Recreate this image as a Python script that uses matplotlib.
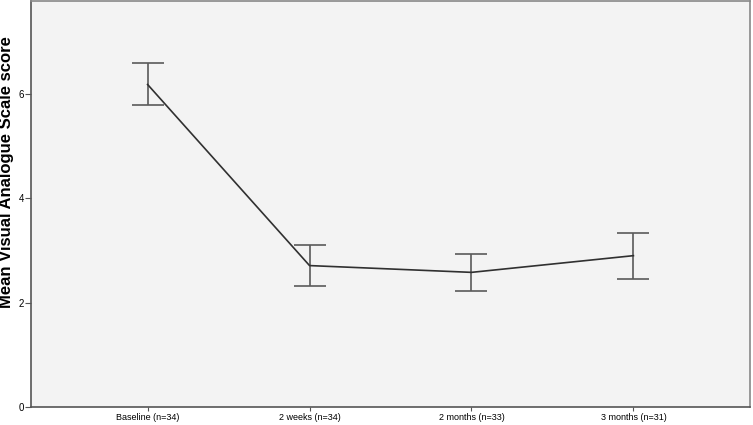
import matplotlib as mpl
import matplotlib.pyplot as plt
import numpy as np

mpl.use("Agg")

labels = ["Baseline (n=34)", "2 weeks (n=34)", "2 months (n=33)", "3 months (n=31)"]
means = [6.18, 2.71, 2.58, 2.90]
upper = [6.59, 3.11, 2.94, 3.34]
lower = [5.79, 2.31, 2.22, 2.46]

x = np.arange(len(labels))
means = np.array(means)
yerr = [means - np.array(lower), np.array(upper) - means]

font = "Liberation Sans"

fig = plt.figure(figsize=(7.53, 4.25), dpi=100)
ax = fig.add_axes([31/753, 18/425, 719/753, 406/425])
ax.set_facecolor("#f3f3f3")

ax.errorbar(x, means, yerr=yerr, fmt="none", ecolor="#5a5a5a",
            elinewidth=1.2, capsize=11.5, capthick=1.2)
ax.plot(x, means, color="#303030", linewidth=1.2)

ax.set_xlim(-0.72, 3.72)
ax.set_ylim(0, 7.78)
ax.set_yticks([0, 2, 4, 6])
ax.set_xticks(x)
ax.set_xticklabels(labels, fontsize=6.5, family=font)
ax.tick_params(axis="y", labelsize=7, length=4, color="#555555", pad=1)
ax.tick_params(axis="x", length=3, color="#555555", pad=1)
for lab in ax.get_yticklabels():
    lab.set_family(font)

fig.text(7/753, 1 - 172/425, "Mean Visual Analogue Scale score", rotation=90,
         fontsize=12, fontweight="bold", family=font,
         ha="center", va="center")

for s in ax.spines.values():
    s.set_color("#888888")
    s.set_linewidth(1.2)
ax.spines["left"].set_color("#555555")
ax.spines["bottom"].set_color("#555555")

plt.savefig("out.png", dpi=100)
